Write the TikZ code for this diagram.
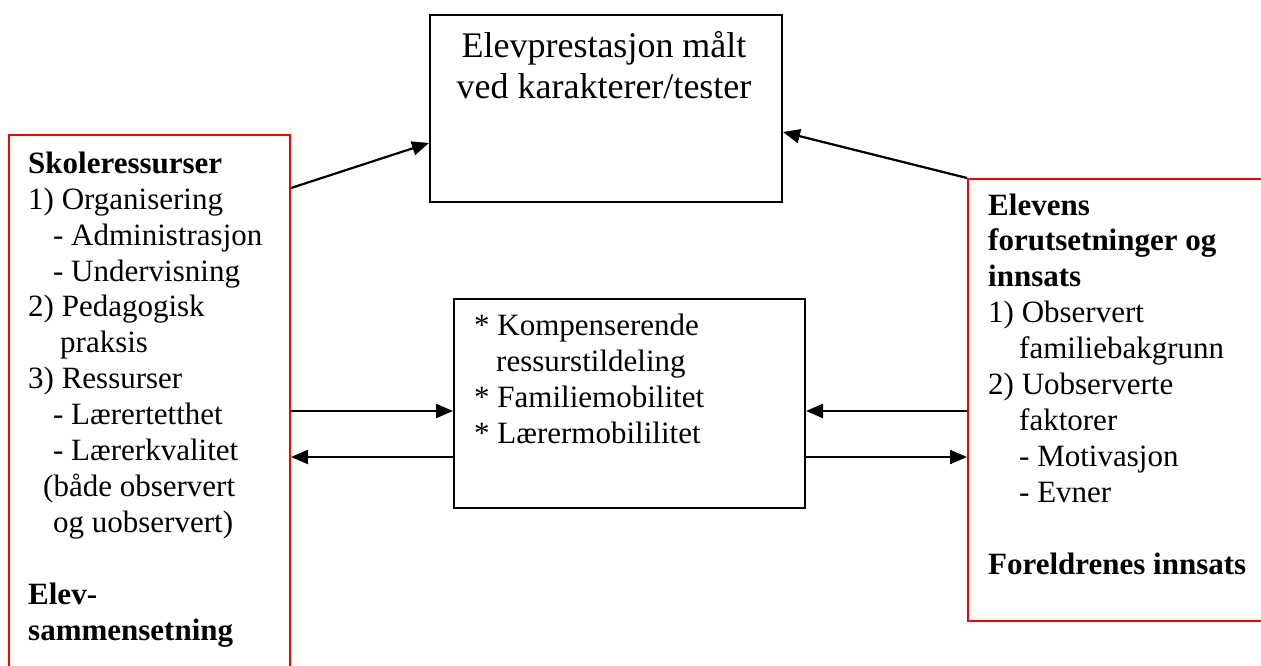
\documentclass[tikz,border=0pt]{standalone}
\usepackage{fontspec}
\setmainfont{Liberation Serif}
\usetikzlibrary{arrows.meta}
\begin{document}
\begin{tikzpicture}[x=1pt,y=-1pt,
  blackbox/.style={draw=black, line width=2pt, fill=none, inner sep=0pt, anchor=north west},
  redbox/.style={draw=red, line width=2pt, fill=none, inner sep=0pt, anchor=north west},
  bodytext/.style={inner sep=0pt, align=left, anchor=base west, font=\fontsize{31}{35.9}\selectfont},
  titletext/.style={inner sep=0pt, align=center, anchor=base, font=\fontsize{36}{41}\selectfont},
  conn/.style={line width=2.2pt, -{Triangle[length=17pt,width=14pt]}}
]
\useasboundingbox (0,0) rectangle (1261,666);
\fill[white] (0,0) rectangle (1261,666);
\clip (0,0) rectangle (1261,666);

% boxes
\node[blackbox, minimum width=352pt, minimum height=187pt] (perf) at (429,14) {};
\node[blackbox, minimum width=351pt, minimum height=209pt] (mid) at (453,298) {};
\node[redbox, minimum width=281pt, minimum height=560pt] (skole) at (8,134) {};
\node[redbox, minimum width=330pt, minimum height=442pt] (elev) at (967,178) {};

% texts (anchored at the baseline of the last line)
\node[titletext] (perftext) at (604,99) {Elevprestasjon målt\\ved karakterer/tester};

\node[bodytext] (midtext) at (474,443) {* Kompenserende\\\hspace*{22pt}ressurstildeling\\* Familiemobilitet\\* Lærermobililitet};

\node[bodytext] (skoletext) at (28,640) {\textbf{Skoleressurser}\\
1) Organisering\\
\hspace*{25pt}- Administrasjon\\
\hspace*{25pt}- Undervisning\\
2) Pedagogisk\\
\hspace*{32pt}praksis\\
3) Ressurser\\
\hspace*{25pt}- Lærertetthet\\
\hspace*{25pt}- Lærerkvalitet\\
\hspace*{15pt}(både observert\\
\hspace*{25pt}og uobservert)\\
\mbox{}\\
\textbf{Elev-}\\
\textbf{sammensetning}};

\node[bodytext] (elevtext) at (988,574) {\textbf{Elevens}\\
\textbf{forutsetninger og}\\
\textbf{innsats}\\
1) Observert\\
\hspace*{31pt}familiebakgrunn\\
2) Uobserverte\\
\hspace*{31pt}faktorer\\
\hspace*{31pt}- Motivasjon\\
\hspace*{31pt}- Evner\\
\mbox{}\\
\textbf{Foreldrenes innsats}};

% connectors
\draw[conn] (skole.east |- 0,188) -- (perf.west |- 0,143);
\draw[conn] (elev.north west) -- (perf.east |- 0,132);
\draw[conn] (skole.east |- 0,411) -- (mid.west |- 0,411);
\draw[conn] (mid.west |- 0,457) -- (skole.east |- 0,457);
\draw[conn] (elev.west |- 0,411) -- (mid.east |- 0,411);
\draw[conn] (mid.east |- 0,457) -- (elev.west |- 0,457);
\end{tikzpicture}
\end{document}
